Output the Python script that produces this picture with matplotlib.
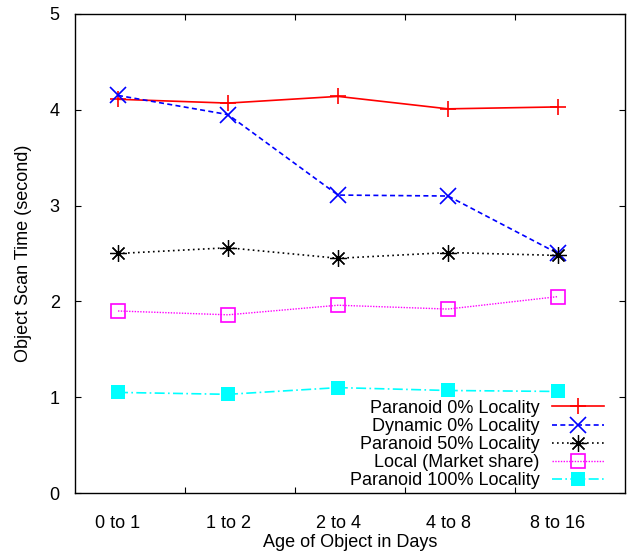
import numpy as np
import matplotlib
matplotlib.use("Agg")
import matplotlib.pyplot as plt
from matplotlib.ticker import FixedLocator, NullFormatter

plt.rcParams['font.family'] = ['Liberation Sans', 'DejaVu Sans']

categories = ["0 to 1", "1 to 2", "2 to 4", "4 to 8", "8 to 16"]
paranoid_0 = [4.11, 4.07, 4.14, 4.01, 4.03]
dynamic_0 = [4.15, 3.95, 3.11, 3.10, 2.50]
paranoid_50 = [2.50, 2.56, 2.45, 2.51, 2.48]
local_market = [1.90, 1.86, 1.96, 1.92, 2.05]
paranoid_100 = [1.05, 1.03, 1.10, 1.07, 1.06]

x = np.arange(len(categories))
fs = 13

fig = plt.figure(figsize=(6.29, 5.53), dpi=100)
ax = fig.add_axes([75/629, 60/553, 550/629, 479/553])

ax.plot(x, paranoid_0, color='#ff0000', lw=1.2, ls='-', marker='+',
        ms=11, mew=1.2, label='Paranoid 0% Locality')
ax.plot(x, dynamic_0, color='#0000ff', lw=1.2, ls=(0, (3, 2)), marker='x',
        ms=11, mew=1.2, label='Dynamic 0% Locality')
ax.plot(x, paranoid_50, color='#000000', lw=1.2, ls=(0, (1, 2)), marker=(8, 2, 0),
        ms=12, mew=0.9, label='Paranoid 50% Locality')
ax.plot(x, local_market, color='#ff00ff', lw=1.0, ls=(0, (1, 1)), marker='s',
        ms=10, mew=1.2, mfc='none', label='Local (Market share)')
ax.plot(x, paranoid_100, color='#00ffff', lw=1.2, ls=(0, (6, 2, 1, 2)), marker='s',
        ms=10, mew=0, label='Paranoid 100% Locality')

ax.set_xlim(-43/110, 507/110)
ax.set_ylim(0, 5)

# category labels at points, tick marks between them
ax.xaxis.set_major_locator(FixedLocator(x + 0.61))
ax.xaxis.set_major_formatter(NullFormatter())
ax.xaxis.set_minor_locator(FixedLocator(x))
ax.set_xticklabels(categories, minor=True)
ax.tick_params(axis='x', which='minor', length=0, pad=16, labelsize=fs)
ax.tick_params(axis='x', which='major', direction='in', length=4, top=True, width=0.8)
ax.set_yticks([0, 1, 2, 3, 4, 5])
ax.tick_params(axis='y', direction='in', length=4, right=True, width=0.8, pad=11,
               labelsize=fs)

for s in ax.spines.values():
    s.set_linewidth(1.0)

ax.set_xlabel("Age of Object in Days", fontsize=fs, labelpad=1)
ax.set_ylabel("Object Scan Time (second)", fontsize=fs, labelpad=13)

leg = ax.legend(loc='lower right', frameon=False, markerfirst=False,
                fontsize=fs, handlelength=2.9, labelspacing=0.06,
                handletextpad=0.66, borderaxespad=0,
                bbox_to_anchor=(0.975, -0.007))
for t in leg.get_texts():
    t.set_ha('right')

fig.savefig("out.png", dpi=100)
